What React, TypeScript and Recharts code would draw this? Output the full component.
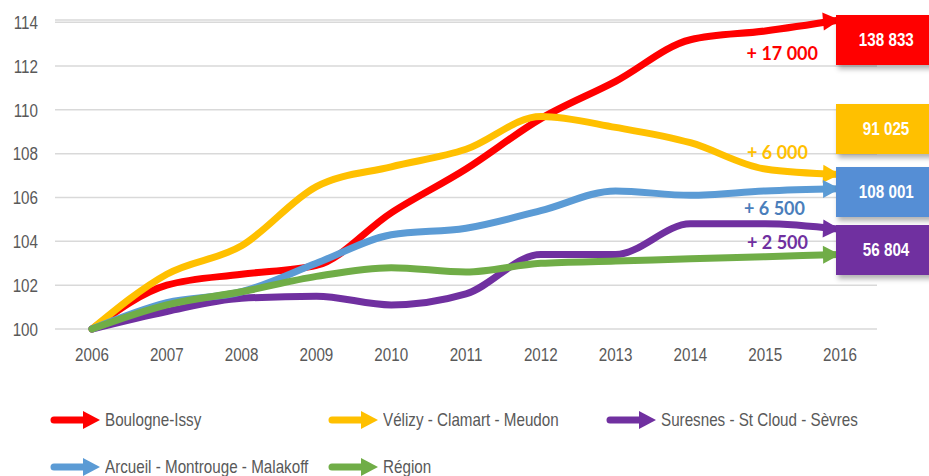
import React from "react";
import { LineChart, Line, XAxis, YAxis, CartesianGrid } from "recharts";

const years = ["2006", "2007", "2008", "2009", "2010", "2011", "2012", "2013", "2014", "2015", "2016"];
const yTicks = [100, 102, 104, 106, 108, 110, 112, 114];

const boulogneIssy = [100, 102.0, 102.5, 102.9, 105.3, 107.3, 109.6, 111.3, 113.2, 113.6, 114.1];
const velizyClamartMeudon = [100, 102.5, 103.8, 106.5, 107.4, 108.2, 109.7, 109.2, 108.5, 107.3, 107.05];
const suresnesStCloudSevres = [100, 100.8, 101.4, 101.5, 101.1, 101.6, 103.4, 103.4, 104.8, 104.8, 104.55];
const arcueilMontrougeMalakoff = [100, 101.2, 101.7, 103.0, 104.3, 104.6, 105.4, 106.3, 106.1, 106.3, 106.4];
const region = [100, 101.1, 101.7, 102.4, 102.8, 102.6, 103.0, 103.1, 103.2, 103.3, 103.4];

const totals2016 = ["138 833", "91 025", "108 001", "56 804"];
const gains = ["+ 17 000", "+ 6 000", "+ 6 500", "+ 2 500"];

const series = [
  { key: "boulogne", name: "Boulogne-Issy", color: "#FF0000", values: boulogneIssy },
  { key: "velizy", name: "Vélizy - Clamart - Meudon", color: "#FFC000", values: velizyClamartMeudon },
  { key: "suresnes", name: "Suresnes - St Cloud - Sèvres", color: "#7030A0", values: suresnesStCloudSevres },
  { key: "arcueil", name: "Arcueil - Montrouge - Malakoff", color: "#5B9BD5", values: arcueilMontrougeMalakoff },
  { key: "region", name: "Région", color: "#70AD47", values: region },
];

const data = years.map((year, i) => {
  const row: Record<string, string | number> = { year };
  series.forEach((s) => (row[s.key] = s.values[i]));
  return row;
});

// boxes + gain labels on the right (red, yellow, blue, purple)
const boxStyles = [
  { top: 15, bg: "#FF0000" },
  { top: 104, bg: "#FFC000" },
  { top: 167, bg: "#558ED5" },
  { top: 225, bg: "#7030A0" },
];
const gainStyles = [
  { right: 111, top: 43, color: "#FF0000" },
  { right: 121, top: 142, color: "#FFC000" },
  { right: 124, top: 198, color: "#4A7EBB" },
  { right: 121, top: 232, color: "#7030A0" },
];

const sans = '"Liberation Sans", Arial, sans-serif';
const SQUEEZE = 0.8; // no narrow font installed, squeeze Liberation Sans

function Tick(props: any) {
  const { x, y, payload, textAnchor, verticalAnchor } = props;
  const dy = verticalAnchor === "start" ? "0.71em" : "0.355em";
  return (
    <text
      transform={`translate(${x},${y}) scale(${SQUEEZE},1)`}
      textAnchor={textAnchor}
      dy={dy}
      fill="#595959"
      fontSize={19}
      fontFamily={sans}
    >
      {payload.value}
    </text>
  );
}

function ArrowHead(props: any) {
  const { cx, cy, index, stroke, points } = props;
  if (index !== years.length - 1 || cx == null) return <g key={`d-${index}`} />;
  let angle = 0;
  if (points && points.length > 1) {
    const p = points[points.length - 2];
    angle = ((Math.atan2(cy - p.y, cx - p.x) * 180) / Math.PI) * 0.6;
  }
  return (
    <polygon
      key={`d-${index}`}
      points={`${cx},${cy} ${cx - 17},${cy - 9} ${cx - 17},${cy + 9}`}
      fill={stroke}
      transform={`rotate(${angle} ${cx} ${cy})`}
    />
  );
}

function LegendIcon({ color }: { color: string }) {
  return (
    <svg width={52} height={20} style={{ display: "block", flex: "none" }}>
      <line x1={4} y1={10} x2={36} y2={10} stroke={color} strokeWidth={7} strokeLinecap="round" />
      <polygon points="33,1 50,10 33,19" fill={color} />
    </svg>
  );
}

const squeezed = {
  display: "inline-block",
  transform: `scaleX(${SQUEEZE})`,
  whiteSpace: "nowrap",
} as const;

export default function App() {
  return (
    <div
      style={{
        position: "absolute",
        left: 0,
        top: 0,
        width: 929,
        height: 476,
        overflow: "hidden",
        background: "#ffffff",
      }}
    >
      <LineChart
        width={929}
        height={476}
        data={data}
        margin={{ top: 20, right: 52, bottom: 117, left: 10 }}
      >
        <CartesianGrid vertical={false} stroke="#D9D9D9" strokeWidth={1.5} />
        <XAxis
          dataKey="year"
          height={30}
          axisLine={false}
          tickLine={false}
          tick={<Tick />}
          tickMargin={13}
          interval={0}
          padding={{ left: 37, right: 37 }}
        />
        <YAxis
          width={45}
          domain={[100, 114]}
          ticks={yTicks}
          axisLine={false}
          tickLine={false}
          tick={<Tick />}
          tickMargin={11}
        />
        {series.map((s) => (
          <Line
            key={s.key}
            type="monotone"
            dataKey={s.key}
            name={s.name}
            stroke={s.color}
            strokeWidth={7}
            strokeLinecap="round"
            dot={<ArrowHead />}
            activeDot={false}
            isAnimationActive={false}
          />
        ))}
      </LineChart>

      {totals2016.map((t, i) => (
        <div
          key={t}
          style={{
            position: "absolute",
            left: 836,
            top: boxStyles[i].top,
            width: 100,
            height: 50,
            background: boxStyles[i].bg,
            color: "#ffffff",
            fontFamily: sans,
            fontWeight: "bold",
            fontSize: 19,
            display: "flex",
            alignItems: "center",
            justifyContent: "center",
            boxShadow: "2px 4px 5px rgba(0,0,0,0.3)",
          }}
        >
          <span style={{ ...squeezed, transformOrigin: "center" }}>{t}</span>
        </div>
      ))}

      {gains.map((g, i) => (
        <div
          key={g}
          style={{
            position: "absolute",
            right: gainStyles[i].right,
            top: gainStyles[i].top,
            color: gainStyles[i].color,
            fontFamily: "Lato, 'Open Sans', sans-serif",
            fontWeight: "bold",
            fontSize: 18,
            lineHeight: "20px",
            whiteSpace: "nowrap",
          }}
        >
          {g}
        </div>
      ))}

      {series.map((s, i) => {
        const col = i % 3;
        const row = Math.floor(i / 3);
        return (
          <div
            key={s.key}
            style={{
              position: "absolute",
              left: 50 + col * 278,
              top: 409 + row * 47,
              height: 22,
              display: "flex",
              alignItems: "center",
              gap: 3,
              fontFamily: sans,
              fontSize: 19,
              color: "#595959",
              whiteSpace: "nowrap",
            }}
          >
            <LegendIcon color={s.color} />
            <span style={{ ...squeezed, transformOrigin: "left center" }}>{s.name}</span>
          </div>
        );
      })}
    </div>
  );
}
